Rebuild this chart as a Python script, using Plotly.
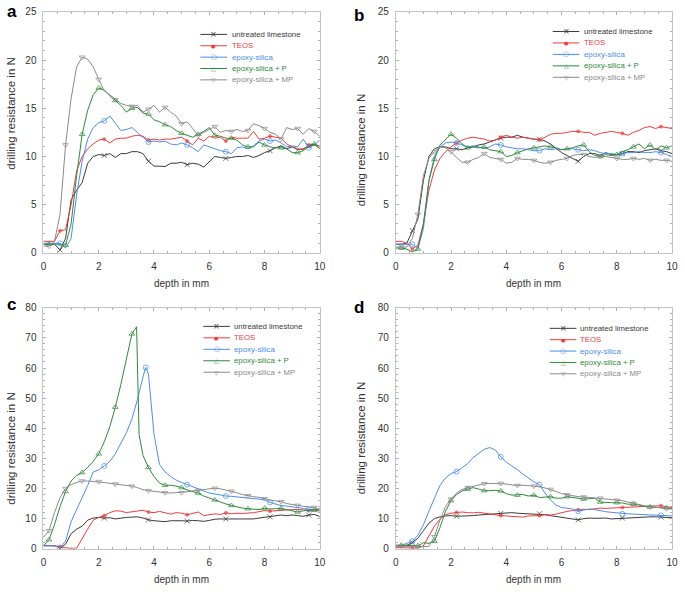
import plotly.graph_objects as go

W, H = 685, 592

# ---------------- data ----------------
SERIES = ["untreated limestone", "TEOS", "epoxy-silica", "epoxy-silica + P", "epoxy-silica + MP"]

X = [0.0, 0.2, 0.4, 0.6, 0.8, 1.0, 1.2, 1.4, 1.6, 1.8, 2.0, 2.2, 2.4, 2.6, 2.8, 3.0, 3.2, 3.4, 3.6, 3.8,
     4.0, 4.2, 4.4, 4.6, 4.8, 5.0, 5.2, 5.4, 5.6, 5.8, 6.0, 6.2, 6.4, 6.6, 6.8, 7.0, 7.2, 7.4, 7.6, 7.8,
     8.0, 8.2, 8.4, 8.6, 8.8, 9.0, 9.2, 9.4, 9.6, 9.8, 10.0]

# panel a
A_UNTREATED = [0.9, 0.9, 0.9, 0.3, 1.5, 5.5, 6.5, 7.3, 9.3, 10.0, 10.2, 10.1, 10.3, 9.9, 10.3,
               10.3, 10.5, 10.5, 10.3, 9.5, 9.0, 9.0, 8.95, 9.3, 9.3, 9.4, 9.15, 9.3, 9.2, 8.9,
               9.4, 10.0, 9.9, 9.8, 9.9, 10.0, 10.0, 10.1, 9.9, 10.1, 10.4, 10.6, 10.9, 11.1, 10.8,
               11.0, 10.7, 10.8, 11.1, 11.3, 10.8]
A_TEOS = [1.2, 1.2, 1.2, 2.3, 2.4, 5.0, 8.5, 10.0, 10.8, 11.3, 11.7, 11.8, 11.4, 11.8, 11.9,
          11.9, 12.1, 12.2, 12.1, 11.7, 11.8, 11.7, 11.8, 11.8, 11.9, 12.0, 11.6, 11.2, 11.9, 11.6,
          12.1, 11.9, 12.0, 11.6, 12.0, 11.9, 11.9, 11.9, 12.6, 11.8, 11.9, 12.1, 12.0, 11.9, 11.3,
          11.0, 10.8, 10.7, 11.2, 11.2, 11.1]
A_EPOXY = [1.0, 1.0, 1.0, 1.0, 0.5, 1.5, 6.0, 9.5, 11.8, 13.0, 13.5, 13.7, 14.2, 13.5, 12.7,
           12.8, 13.0, 12.5, 12.0, 11.5, 11.6, 11.5, 11.6, 11.3, 11.2, 11.4, 11.2, 10.9, 10.5, 11.2,
           11.0, 10.8, 10.6, 10.5, 10.3, 10.9, 11.0, 10.8, 11.1, 11.6, 11.8, 11.6, 11.7, 11.4, 11.0,
           11.1, 11.0, 11.8, 10.9, 11.2, 11.7]
A_EPOXY_P = [0.9, 0.9, 0.9, 0.9, 0.8, 3.0, 8.0, 12.3, 14.8, 16.4, 17.1, 16.9, 16.3, 15.8, 15.3,
             14.6, 15.0, 15.1, 14.5, 14.4, 13.8, 13.6, 13.3, 13.1, 12.7, 12.4, 12.2, 12.0, 12.3, 12.6,
             13.0, 12.2, 12.1, 11.9, 11.9, 11.7, 11.2, 11.0, 11.0, 11.5, 11.2, 11.0, 10.9, 10.9, 10.8,
             10.4, 10.4, 10.6, 11.0, 11.3, 11.0]
A_EPOXY_MP = [0.7, 0.7, 1.2, 4.0, 11.2, 16.0, 19.3, 20.3, 20.1, 19.3, 18.0, 16.8, 16.4, 15.9, 15.5,
              15.3, 15.2, 15.3, 14.6, 14.9, 15.3, 14.6, 15.1, 14.6, 14.2, 13.4, 13.6, 12.9, 12.2, 12.5,
              12.8, 13.1, 12.5, 12.7, 12.6, 12.8, 12.6, 12.7, 13.4, 13.2, 12.9, 12.5, 12.3, 11.8, 13.0,
              12.8, 12.9, 12.3, 12.9, 12.6, 12.1]

# panel b
B_UNTREATED = [0.9, 0.9, 1.0, 2.3, 3.5, 7.5, 10.0, 10.8, 11.0, 11.0, 10.8, 10.8, 10.7, 10.9, 11.0,
               11.2, 11.3, 11.5, 11.7, 11.9, 12.0, 12.0, 12.2, 12.0, 11.9, 11.8, 11.8, 11.6, 11.3, 10.8,
               10.4, 10.1, 9.8, 9.5, 10.0, 10.3, 10.3, 10.1, 10.4, 10.2, 10.2, 10.3, 10.5, 10.5, 10.4,
               10.6, 10.7, 10.8, 10.6, 10.5, 10.3]
B_TEOS = [1.2, 1.2, 1.0, 0.4, 0.8, 3.0, 6.5, 8.6, 9.8, 10.5, 11.0, 11.4, 11.7, 11.9, 12.0,
          11.9, 11.8, 11.6, 11.7, 12.0, 12.2, 12.0, 11.9, 12.0, 11.9, 11.8, 11.7, 12.0, 12.3, 12.4,
          12.4, 12.5, 12.6, 12.6, 12.5, 12.5, 12.2, 12.4, 12.5, 12.6, 12.5, 12.4, 12.2, 12.5, 12.7,
          13.0, 13.1, 12.9, 13.1, 13.0, 12.9]
B_EPOXY = [0.9, 0.9, 0.9, 0.9, 0.5, 2.5, 7.5, 10.0, 11.0, 11.4, 11.5, 11.4, 11.2, 11.0, 11.1,
           11.0, 10.8, 11.0, 11.3, 11.2, 11.0, 10.9, 10.8, 10.8, 10.7, 10.6, 10.6, 10.8, 10.7, 10.8,
           10.7, 10.8, 10.8, 10.7, 10.6, 10.7, 10.6, 10.4, 10.3, 10.3, 10.2, 10.3, 10.4, 10.4, 10.5,
           10.4, 10.4, 10.5, 10.4, 10.2, 10.0]
B_EPOXY_P = [0.5, 0.5, 0.4, 0.1, 0.4, 3.0, 7.5, 9.7, 11.2, 11.8, 12.3, 11.9, 11.3, 10.9, 11.0,
             10.9, 11.0, 10.7, 10.6, 10.5, 10.0, 10.1, 10.4, 10.6, 10.8, 10.9, 11.0, 11.1, 11.0, 10.9,
             10.7, 10.8, 10.9, 11.1, 11.2, 10.5, 10.1, 10.0, 10.2, 10.1, 10.2, 10.5, 10.7, 11.0, 11.3,
             10.8, 11.2, 10.7, 11.1, 10.9, 11.1]
B_EPOXY_MP = [0.6, 0.6, 0.6, 1.5, 4.0, 8.0, 9.8, 10.5, 11.0, 10.9, 10.5, 9.9, 9.4, 9.4, 9.7,
              9.9, 10.3, 9.9, 9.8, 9.7, 9.3, 9.4, 9.8, 9.7, 9.7, 9.6, 9.4, 9.3, 9.4, 9.6,
              9.7, 9.8, 10.1, 10.2, 10.2, 10.0, 9.9, 10.0, 10.0, 9.9, 9.8, 9.7, 9.7, 9.8, 9.7,
              9.8, 9.6, 9.7, 9.6, 9.6, 9.5]

# panel c
C_UNTREATED = [1.0, 1.0, 1.0, 0.2, 1.5, 5.0, 6.5, 7.5, 9.5, 10.2, 10.4, 10.2, 10.3, 9.9, 10.2,
               10.4, 10.5, 10.6, 10.2, 9.6, 9.3, 9.1, 9.0, 9.3, 9.4, 9.3, 9.2, 9.4, 9.3, 9.1,
               9.4, 9.8, 9.9, 9.9, 10.0, 10.0, 10.0, 10.1, 9.9, 10.2, 10.4, 10.6, 10.9, 11.2, 11.0,
               11.2, 11.0, 10.8, 11.2, 11.4, 10.7]
C_TEOS = [1.2, 1.1, 1.0, 0.6, 0.3, 0.1, 0.2, 3.5, 6.5, 9.5, 10.4, 11.0, 12.0, 12.6, 12.5,
          12.0, 12.2, 12.4, 12.8, 12.2, 12.0, 12.4, 12.0, 11.5, 12.0, 11.8, 11.3, 11.8, 12.2, 11.0,
          11.3, 11.6, 11.4, 11.9, 11.6, 11.8, 11.7, 11.8, 12.0, 12.3, 12.7, 12.5, 12.6, 12.7, 12.9,
          13.0, 13.1, 12.9, 12.7, 12.9, 12.5]
C_X_EPOXY = [0.0, 0.2, 0.4, 0.6, 0.8, 1.0, 1.2, 1.4, 1.6, 1.8, 2.0, 2.2, 2.4, 2.6, 2.8, 3.0, 3.2, 3.4,
             3.6, 3.7, 3.8, 3.9, 4.0, 4.2, 4.4, 4.6, 4.8, 5.0, 5.2, 5.4, 5.6, 5.8, 6.0, 6.2, 6.4, 6.6,
             6.8, 7.0, 7.2, 7.4, 7.6, 7.8, 8.0, 8.2, 8.4, 8.6, 8.8, 9.0, 9.2, 9.4, 9.6, 9.8, 10.0]
C_EPOXY = [1.0, 1.0, 1.0, 0.4, 2.5, 9.0, 13.0, 16.5, 21.0, 25.5, 26.2, 27.5, 29.0, 31.5, 35.0, 38.5,
           43.0, 49.5, 57.0, 60.2, 58.0, 47.0, 38.0, 28.0, 25.5, 24.0, 22.8, 22.0, 21.3, 20.5, 19.8,
           19.0, 18.5, 18.2, 17.8, 17.5, 17.4, 17.2, 17.0, 16.9, 16.7, 16.6, 16.3, 15.4, 14.8, 14.3,
           14.2, 14.0, 13.7, 13.4, 13.1, 13.0, 12.8]
C_X_P = [0.0, 0.2, 0.4, 0.6, 0.8, 1.0, 1.2, 1.4, 1.6, 1.8, 2.0, 2.2, 2.4, 2.6, 2.8, 3.0, 3.2, 3.37,
         3.46, 3.6, 3.8, 4.0, 4.2, 4.4, 4.6, 4.8, 5.0, 5.2, 5.4, 5.6, 5.8, 6.0, 6.2, 6.4, 6.6, 6.8,
         7.0, 7.2, 7.4, 7.6, 7.8, 8.0, 8.2, 8.4, 8.6, 8.8, 9.0, 9.2, 9.4, 9.6, 9.8, 10.0]
C_EPOXY_P = [1.0, 3.0, 8.0, 14.0, 19.0, 22.5, 24.3, 25.3, 27.0, 29.0, 31.5, 35.5, 40.5, 47.0, 54.5,
             62.5, 71.3, 73.7, 38.0, 31.0, 27.0, 24.0, 21.8, 21.1, 21.1, 20.8, 20.3, 19.5, 18.9, 18.5,
             17.5, 16.8, 16.2, 15.5, 14.9, 14.4, 13.9, 13.5, 13.3, 13.2, 13.0, 13.5, 13.2, 13.3, 13.4,
             13.0, 12.6, 12.2, 12.6, 12.9, 12.8, 13.3]
C_EPOXY_MP = [3.8, 6.0, 12.0, 17.0, 20.0, 21.3, 22.0, 22.5, 22.5, 22.4, 22.3, 22.0, 21.7, 21.5, 21.2,
              21.0, 20.8, 20.3, 19.6, 19.3, 19.0, 18.8, 18.6, 18.5, 18.6, 18.6, 18.9, 19.2, 19.4, 19.5,
              19.7, 20.1, 19.9, 19.5, 19.1, 18.6, 18.0, 17.6, 17.3, 17.1, 16.6, 16.2, 15.9, 15.6, 15.0,
              14.6, 14.4, 14.1, 13.9, 13.7, 13.0]

# panel d
D_UNTREATED = [1.0, 1.0, 1.2, 2.0, 3.5, 6.0, 8.5, 10.0, 10.6, 10.9, 11.0, 10.8, 10.8, 10.9, 11.0,
               11.2, 11.3, 11.5, 11.6, 11.7, 11.8, 12.0, 11.8, 11.7, 11.6, 11.6, 11.6, 11.3, 11.0, 10.7,
               10.4, 10.1, 9.9, 9.6, 10.0, 10.2, 10.1, 10.1, 10.2, 9.9, 10.0, 10.2, 10.4, 10.3, 10.4,
               10.5, 10.6, 10.6, 10.5, 10.5, 10.3]
D_TEOS = [0.4, 0.4, 0.4, 0.4, 0.2, 1.0, 4.5, 7.5, 9.8, 11.3, 11.8, 12.1, 12.2, 12.0, 11.9,
          12.1, 11.8, 11.5, 11.2, 11.0, 10.9, 10.8, 10.6, 10.5, 10.9, 10.9, 11.0, 11.3, 11.2, 11.5,
          12.0, 12.4, 12.7, 12.9, 13.1, 13.0, 13.3, 13.5, 13.4, 13.6, 13.6, 13.7, 13.8, 13.9, 14.0,
          13.9, 14.0, 14.1, 14.3, 13.9, 13.7]
D_EPOXY = [1.0, 1.2, 1.8, 2.5, 4.5, 8.0, 12.5, 17.0, 21.0, 23.5, 25.0, 25.6, 26.8, 28.2, 30.3,
           31.8, 33.0, 33.6, 32.8, 30.5, 28.8, 27.5, 26.3, 24.8, 23.5, 22.2, 21.3, 18.5, 16.2, 14.5,
           13.7, 13.4, 13.2, 12.5, 12.9, 13.2, 13.0, 12.6, 12.3, 12.1, 11.9, 11.6, 11.6, 11.5, 11.4,
           11.3, 11.2, 11.1, 11.1, 11.0, 10.9]
D_EPOXY_P = [1.2, 1.2, 1.0, 1.0, 1.0, 2.0, 1.8, 2.5, 7.0, 12.5, 16.0, 18.0, 19.2, 19.8, 20.3,
             19.8, 19.3, 19.3, 19.4, 19.2, 18.3, 17.8, 17.8, 18.0, 17.5, 17.8, 17.0, 17.2, 17.3, 16.8,
             16.8, 17.3, 17.0, 16.8, 16.5, 16.6, 16.8, 15.5, 15.3, 15.3, 15.3, 15.2, 14.8, 14.8, 14.5,
             14.0, 13.9, 13.8, 13.7, 13.6, 13.3]
D_EPOXY_MP = [0.9, 0.9, 0.8, 0.6, 0.6, 0.6, 0.8, 4.0, 9.5, 14.0, 16.5, 18.5, 19.7, 20.3, 20.8,
              21.2, 21.6, 21.7, 21.6, 21.7, 21.5, 21.2, 21.0, 21.1, 21.0, 20.8, 20.6, 20.2, 19.7, 19.0,
              18.3, 17.9, 17.5, 17.3, 17.2, 17.0, 16.8, 16.8, 16.5, 16.2, 16.1, 16.0, 15.5, 15.1, 14.8,
              14.3, 13.9, 13.8, 13.6, 13.3, 13.2]

X_TICKS = [0, 2, 4, 6, 8, 10]
Y_TICKS_AB = [0, 5, 10, 15, 20, 25]
Y_TICKS_CD = [0, 10, 20, 30, 40, 50, 60, 70, 80]

# marker positions along depth (every ~1.5 mm or ~0.6 mm as in the original)
MARK_SPARSE = [0.6, 2.2, 3.7, 5.2, 6.6, 8.2, 9.6]
MARK_DENSE = [0.2, 0.8, 1.4, 2.0, 2.6, 3.2, 3.8, 4.4, 5.0, 5.6, 6.2, 6.8, 7.4, 8.0, 8.6, 9.2, 9.8]

# ---------------- styling ----------------
FONT = "Liberation Sans, Arial, sans-serif"
COLORS = ["#3a3a3a", "#f23a3a", "#4a8df2", "#2f8a3a", "#8a8a8a"]
SYMBOLS = ["x-thin-open", "circle", "circle-open", "triangle-up-open", "triangle-down-open"]
MSIZE = [5, 3, 5, 5, 5]
MARKSETS = [MARK_SPARSE, MARK_SPARSE, MARK_SPARSE, MARK_DENSE, MARK_DENSE]
GLYPHS = ["×", "●", "○", "△", "▽"]
GLYPH_SIZE = [8, 5, 7, 6, 6]

# panels: (letter, axis suffix, series list, ymax, yticks, yminor, plot px box)
PANELS = [
    ("a", "", [(X, A_UNTREATED), (X, A_TEOS), (X, A_EPOXY), (X, A_EPOXY_P), (X, A_EPOXY_MP)],
     25, Y_TICKS_AB, 1, (41, 321, 6, 252)),
    ("b", "2", [(X, B_UNTREATED), (X, B_TEOS), (X, B_EPOXY), (X, B_EPOXY_P), (X, B_EPOXY_MP)],
     25, Y_TICKS_AB, 1, (398, 678, 6, 252)),
    ("c", "3", [(X, C_UNTREATED), (X, C_TEOS), (C_X_EPOXY, C_EPOXY), (C_X_P, C_EPOXY_P), (X, C_EPOXY_MP)],
     80, Y_TICKS_CD, 2, (41, 321, 308, 554)),
    ("d", "4", [(X, D_UNTREATED), (X, D_TEOS), (X, D_EPOXY), (X, D_EPOXY_P), (X, D_EPOXY_MP)],
     80, Y_TICKS_CD, 2, (398, 678, 308, 554)),
]

# legend placement (px): line x0, line x1, text x, first row y, row step
LEGEND_POS = {
    "a": (200, 227, 230, 29, 11.6),
    "b": (557, 584, 587, 26, 11.7),
    "c": (203, 230, 232, 327, 11.7),
    "d": (554, 581, 583, 329, 11.6),
}
# panel letter (px centre) and y-title (px centre)
LETTER_POS = {"a": (9, 6), "b": (361, 10), "c": (9, 305), "d": (361, 308)}
YTITLE_POS = {"a": (8, 109), "b": (363, 147), "c": (8, 451), "d": (363, 441)}


def px(xp):
    return xp / W


def py(yp):
    return 1 - yp / H


def marker_sizes(xs, targets, size):
    sizes = [0] * len(xs)
    for t in targets:
        best = min(range(len(xs)), key=lambda i: abs(xs[i] - t))
        sizes[best] = size
    return sizes


fig = go.Figure()
annotations = []
shapes = []

for letter, sfx, series, ymax, yticks, yminor, (x0, x1, y0, y1) in PANELS:
    xa = "x" + sfx
    ya = "y" + sfx
    for k, (xs, ys) in enumerate(series):
        fig.add_trace(go.Scatter(
            x=xs, y=ys, mode="lines+markers", xaxis=xa, yaxis=ya, showlegend=False,
            name=SERIES[k],
            line=dict(color=COLORS[k], width=1),
            marker=dict(symbol=SYMBOLS[k], size=marker_sizes(xs, MARKSETS[k], MSIZE[k]),
                        color=COLORS[k], line=dict(color=COLORS[k], width=1)),
        ))
    axis_common = dict(
        showgrid=False, zeroline=False, showline=True, linecolor="#c4c4c4", linewidth=1,
        mirror="ticks", ticks="inside", ticklen=3, tickcolor="#b0b0b0", tickwidth=1,
        tickfont=dict(family=FONT, size=10, color="#333333"),
    )
    fig.update_layout(**{
        "xaxis" + sfx: dict(axis_common, domain=[px(x0), px(x1)], range=[0, 10], tickvals=X_TICKS,
                            anchor=ya, ticklabelstandoff=4,
                            minor=dict(ticks="inside", dtick=0.5, ticklen=2, tickcolor="#b0b0b0")),
        "yaxis" + sfx: dict(axis_common, domain=[py(y1), py(y0)], range=[0, ymax], tickvals=yticks,
                            anchor=xa, ticklabelstandoff=4,
                            minor=dict(ticks="inside", dtick=yminor, ticklen=2, tickcolor="#b0b0b0")),
    })
    # axis titles
    annotations.append(dict(text="depth in mm", x=px((x0 + x1) / 2), y=py(y1 + 31), xref="paper",
                            yref="paper", showarrow=False, xanchor="center", yanchor="middle",
                            font=dict(family=FONT, size=10, color="#333333")))
    tx, ty = YTITLE_POS[letter]
    annotations.append(dict(text="drilling resistance in N", x=px(tx), y=py(ty), xref="paper",
                            yref="paper", showarrow=False, xanchor="center", yanchor="middle",
                            textangle=-90, font=dict(family=FONT, size=11.5, color="#333333")))
    lx, ly = LETTER_POS[letter]
    annotations.append(dict(text="<b>%s</b>" % letter, x=px(lx), y=py(ly), xref="paper", yref="paper",
                            showarrow=False, xanchor="center", yanchor="middle",
                            font=dict(family=FONT, size=17, color="#000000")))
    # legend
    lx0, lx1, ltx, ly0, lstep = LEGEND_POS[letter]
    for k, name in enumerate(SERIES):
        yy = ly0 + k * lstep
        shapes.append(dict(type="line", xref="paper", yref="paper", x0=px(lx0), x1=px(lx1),
                           y0=py(yy), y1=py(yy), line=dict(color=COLORS[k], width=1)))
        annotations.append(dict(text=GLYPHS[k], x=px((lx0 + lx1) / 2), y=py(yy), xref="paper",
                                yref="paper", showarrow=False, xanchor="center", yanchor="middle",
                                font=dict(family="DejaVu Sans", size=GLYPH_SIZE[k], color=COLORS[k])))
        annotations.append(dict(text=name, x=px(ltx), y=py(yy), xref="paper", yref="paper",
                                showarrow=False, xanchor="left", yanchor="middle",
                                font=dict(family=FONT, size=7.8, color=COLORS[k])))

fig.update_layout(
    width=W, height=H, margin=dict(l=0, r=0, t=0, b=0),
    paper_bgcolor="white", plot_bgcolor="white",
    annotations=annotations, shapes=shapes, showlegend=False,
    font=dict(family=FONT, size=10, color="#333333"),
)

fig.write_html("out.html", config={"displayModeBar": False},
               post_script="document.body.style.margin='0';document.body.style.overflow='hidden';")
